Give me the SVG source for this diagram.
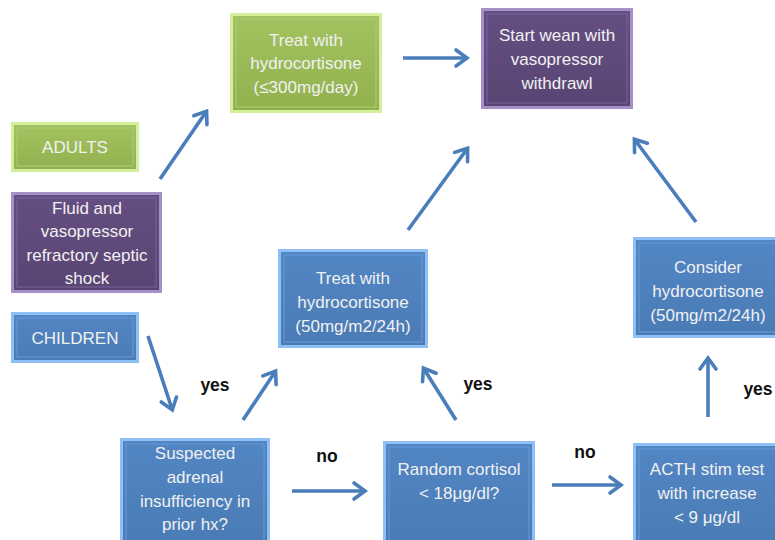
<svg xmlns="http://www.w3.org/2000/svg" width="775" height="540" viewBox="0 0 775 540">
<defs>
<marker id="ah" markerUnits="userSpaceOnUse" markerWidth="30" markerHeight="30" viewBox="-15 -15 30 30" refX="-1" refY="0" orient="auto">
<path d="M-11,-8 L0,0 L-11,8" fill="none" stroke="#4a7ebb" stroke-width="3.6" stroke-linejoin="miter" stroke-linecap="round"/>
</marker>
<linearGradient id="gG" x1="0" y1="0" x2="0" y2="1"><stop offset="0" stop-color="#a3c361"/><stop offset="1" stop-color="#91b14f"/></linearGradient>
<linearGradient id="gP" x1="0" y1="0" x2="0" y2="1"><stop offset="0" stop-color="#654f82"/><stop offset="1" stop-color="#594473"/></linearGradient>
<linearGradient id="gB" x1="0" y1="0" x2="0" y2="1"><stop offset="0" stop-color="#5286c4"/><stop offset="1" stop-color="#4a7bb5"/></linearGradient>
</defs>
<style>
.g .o{fill:url(#gG);stroke:#d3ef9c;stroke-width:3}
.g .i{fill:none;stroke:#aacb70;stroke-width:1.2}
.p .o{fill:url(#gP);stroke:#a690c8;stroke-width:3}
.p .i{fill:none;stroke:#76609a;stroke-width:1.2}
.b .o{fill:url(#gB);stroke:#8fc0f5;stroke-width:3}
.b .i{fill:none;stroke:#6496d4;stroke-width:1.2}
text{font-family:"Liberation Sans",Arial,sans-serif;font-size:17px;fill:#f1f1f1;text-anchor:middle}
text.lbl{fill:#111;font-weight:bold;font-size:17.5px}
.c line{stroke:#4a7ebb;stroke-width:3.6;marker-end:url(#ah)}
</style>

<g id="treat-adult" class="g">
<rect class="o" x="231.5" y="14.5" width="149" height="97"/>
<rect class="i" x="236" y="19" width="140" height="88"/>
<text x="306" y="46">Treat with</text>
<text x="306" y="69">hydrocortisone</text>
<text x="306" y="93">(≤300mg/day)</text>
</g>

<g id="start-wean" class="p">
<rect class="o" x="482.5" y="9.5" width="149" height="98"/>
<rect class="i" x="487" y="14" width="140" height="89"/>
<text x="557" y="41">Start wean with</text>
<text x="557" y="65">vasopressor</text>
<text x="557" y="89">withdrawl</text>
</g>

<g id="adults" class="g">
<rect class="o" x="12.5" y="123.5" width="125" height="47"/>
<rect class="i" x="17" y="128" width="116" height="38"/>
<text x="75" y="153">ADULTS</text>
</g>

<g id="fluid" class="p">
<rect class="o" x="12.5" y="193.5" width="148" height="98"/>
<rect class="i" x="17" y="198" width="139" height="89"/>
<text x="87" y="214">Fluid and</text>
<text x="87" y="237">vasopressor</text>
<text x="87" y="261">refractory  septic</text>
<text x="87" y="284">shock</text>
</g>

<g id="children" class="b">
<rect class="o" x="12.5" y="313.5" width="125" height="48"/>
<rect class="i" x="17" y="318" width="116" height="39"/>
<text x="75" y="344">CHILDREN</text>
</g>

<g id="treat-child" class="b">
<rect class="o" x="279.5" y="250.5" width="147" height="96"/>
<rect class="i" x="284" y="255" width="138" height="87"/>
<text x="353" y="284">Treat with</text>
<text x="353" y="308">hydrocortisone</text>
<text x="353" y="332">(50mg/m2/24h)</text>
</g>

<g id="consider" class="b">
<rect class="o" x="634.5" y="238.5" width="150" height="98"/>
<rect class="i" x="639" y="243" width="141" height="89"/>
<text x="708" y="273">Consider</text>
<text x="708" y="297">hydrocortisone</text>
<text x="708" y="321">(50mg/m2/24h)</text>
</g>

<g id="suspected" class="b">
<rect class="o" x="121.5" y="439.5" width="147" height="106"/>
<rect class="i" x="126" y="444" width="138" height="97"/>
<text x="195" y="459">Suspected</text>
<text x="195" y="483">adrenal</text>
<text x="195" y="507">insufficiency in</text>
<text x="195" y="530">prior hx?</text>
</g>

<g id="random" class="b">
<rect class="o" x="384.5" y="442.5" width="149" height="103"/>
<rect class="i" x="389" y="447" width="140" height="94"/>
<text x="459" y="475">Random cortisol</text>
<text x="459" y="499">&lt; 18μg/dl?</text>
</g>

<g id="acth" class="b">
<rect class="o" x="634.5" y="444.5" width="150" height="101"/>
<rect class="i" x="639" y="449" width="141" height="92"/>
<text x="707" y="475">ACTH stim test</text>
<text x="707" y="499">with increase</text>
<text x="707" y="523">&lt; 9 μg/dl</text>
</g>

<g id="connectors" class="c">
<line x1="403" y1="58" x2="466" y2="58"/>
<line x1="160" y1="179" x2="206" y2="112"/>
<line x1="148" y1="336" x2="172" y2="409"/>
<line x1="243" y1="420" x2="275" y2="372"/>
<line x1="408" y1="230" x2="467" y2="149"/>
<line x1="456" y1="420" x2="424" y2="369"/>
<line x1="696" y1="222" x2="635" y2="140"/>
<line x1="708" y1="417" x2="708" y2="359"/>
<line x1="292" y1="491" x2="364" y2="491"/>
<line x1="552" y1="485" x2="620" y2="485"/>
</g>

<g id="labels">
<text class="lbl" x="215" y="391">yes</text>
<text class="lbl" x="478" y="390">yes</text>
<text class="lbl" x="758" y="395">yes</text>
<text class="lbl" x="327" y="462">no</text>
<text class="lbl" x="585" y="458">no</text>
</g>
</svg>
